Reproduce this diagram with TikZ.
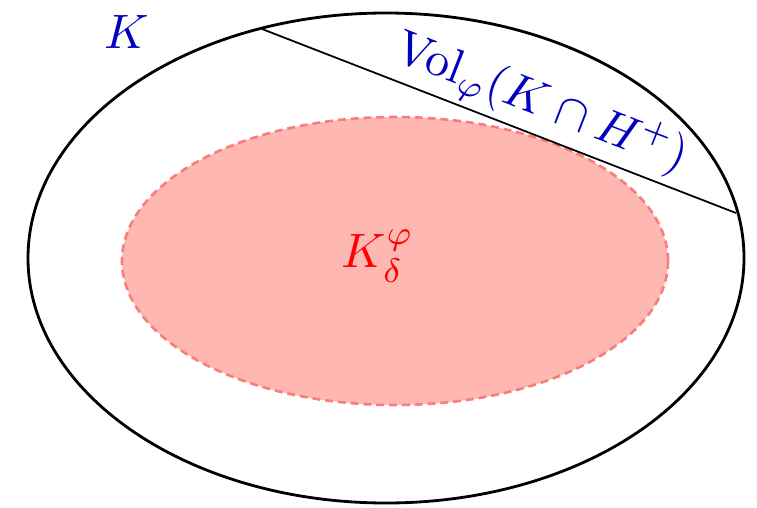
\documentclass[tikz,border=0pt]{standalone}
\usetikzlibrary{positioning}
\definecolor{floatfill}{RGB}{255,184,177}
\definecolor{floatline}{RGB}{248,125,125}
\begin{document}
\begin{tikzpicture}[x=0.02cm, y=-0.02cm,
    lbl/.style={scale=2.75, inner sep=0pt},
    body/.style={draw, line width=1.6pt},
    floating/.style={draw=floatline, fill=floatfill, line width=1.5pt, dash pattern=on 4.5pt off 2.8pt}
]
\useasboundingbox (0,0) rectangle (757,507);

% Convex body and floating body
\draw[body] (386,258) ellipse (358 and 245);
\draw[floating] (395,261) ellipse (273 and 144);

% Cutting hyperplane
\coordinate (hA) at (262,29);
\coordinate (hB) at (736,213);
\draw[line width=1pt] (hA) -- (hB);

% Labels
\node[lbl, text=blue!75!black] (kbody) at (127,32) {$K$};
\node[lbl, text=blue!75!black, rotate=-21.3] (vol) at (541,104) {$\mathrm{Vol}_\varphi(K\cap H^+)$};
\node[lbl, text=red] (kdelta) at (378,256) {$K_\delta^\varphi$};

\end{tikzpicture}
\end{document}
